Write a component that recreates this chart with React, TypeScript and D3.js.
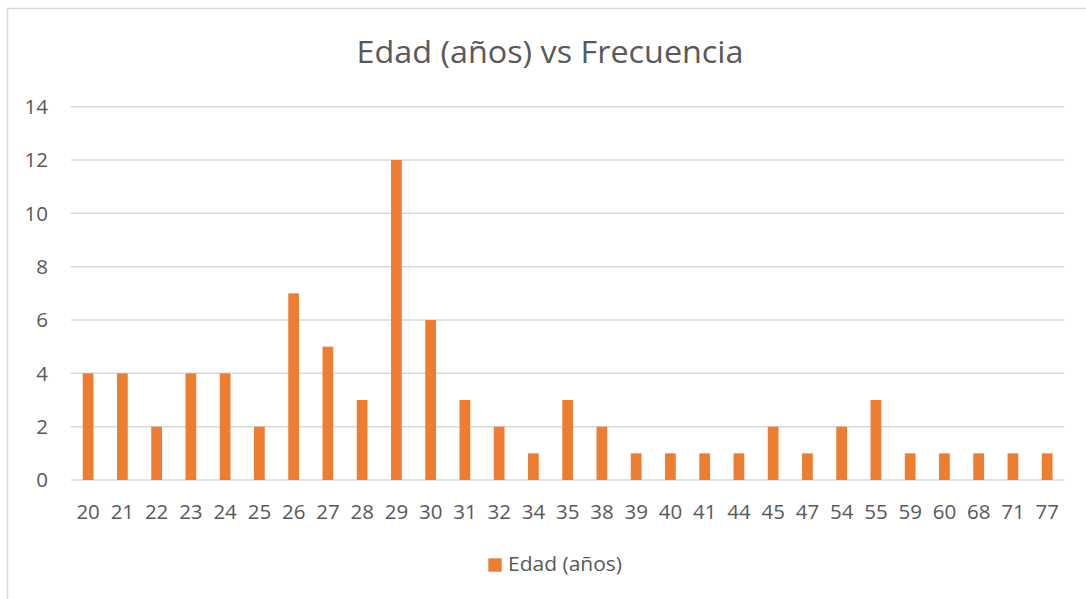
import React from "react";
import * as d3 from "d3";

const categories = ["20","21","22","23","24","25","26","27","28","29","30","31","32","34","35","38","39","40","41","44","45","47","54","55","59","60","68","71","77"];
const values = [4,4,2,4,4,2,7,5,3,12,6,3,2,1,3,2,1,1,1,1,2,1,2,3,1,1,1,1,1];
const yTicks = [0,2,4,6,8,10,12,14];
const title = "Edad (años) vs Frecuencia";
const seriesName = "Edad (años)";

export default function App() {
  const W = 1086, H = 599;
  const left = 71, right = 1064.3, top = 106.7, bottom = 480;
  const x = d3.scaleBand().domain(categories).range([left, right]).paddingInner(0).paddingOuter(0);
  const y = d3.scaleLinear().domain([0, 14]).range([bottom, top]);
  const bw = x.bandwidth() / 3.19;
  const font = "'Open Sans', sans-serif";
  const textColor = "#595959";
  return (
    <svg width={W} height={H} style={{ position: "absolute", left: 0, top: 0, background: "#fff" }}>
      <rect x={7.5} y={8.5} width={1100} height={620} fill="#fff" stroke="#d9d9d9" strokeWidth={1.5} />
      <text x={550} y={63} textAnchor="middle" fontFamily={font} fontSize={31} fill={textColor} textLength={387} lengthAdjust="spacingAndGlyphs">{title}</text>
      {yTicks.map(t => (
        <g key={t}>
          <line x1={left} x2={right} y1={y(t)} y2={y(t)} stroke="#d9d9d9" strokeWidth={1.5} />
          <text x={48} y={y(t)} dy="0.36em" textAnchor="end" fontFamily={font} fontSize={20.5} fill={textColor}>{t}</text>
        </g>
      ))}
      {categories.map((c, i) => (
        <g key={c}>
          <rect x={(x(c) as number) + x.bandwidth() / 2 - bw / 2} y={y(values[i])} width={bw} height={y(0) - y(values[i])} fill="#ED7D31" />
          <text x={(x(c) as number) + x.bandwidth() / 2} y={518.5} textAnchor="middle" fontFamily={font} fontSize={20.5} fill={textColor}>{c}</text>
        </g>
      ))}
      <rect x={488.3} y={558.3} width={13.4} height={13.4} fill="#ED7D31" />
      <text x={508} y={571} fontFamily={font} fontSize={20.5} fill={textColor} textLength={114} lengthAdjust="spacingAndGlyphs">{seriesName}</text>
    </svg>
  );
}
